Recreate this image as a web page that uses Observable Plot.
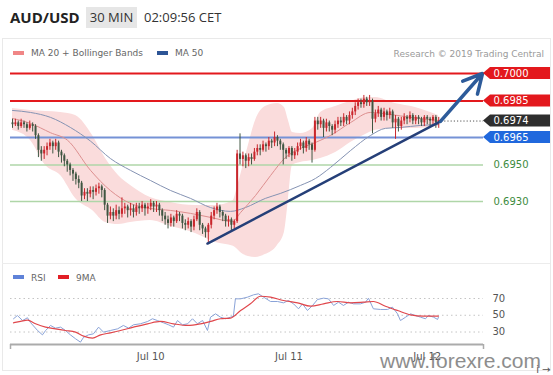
<!DOCTYPE html>
<html><head><meta charset="utf-8">
<script src="https://cdn.jsdelivr.net/npm/d3@7"></script>
<script src="https://cdn.jsdelivr.net/npm/@observablehq/plot@0.6"></script>
<style>
body{margin:0;background:#fff;}
#wrap{position:relative;width:553px;height:375px;overflow:hidden;background:#fff;font-family:"DejaVu Sans",sans-serif;}
.abs{position:absolute;white-space:nowrap;}
.leg{font-size:9px;line-height:12px;color:#666;}
.sw{position:absolute;height:4px;width:11px;}
</style></head><body>
<div id="wrap">
  <div class="abs" style="left:2px;top:38px;width:547px;height:331px;border:1px solid #e9e9e9;"></div>
  <div class="abs" style="left:2px;top:263px;width:548px;height:1px;background:#ececec;"></div>
  <div class="abs" style="left:10px;top:5px;font:bold 15px 'Open Sans';line-height:24px;color:#222;">AUD/USD</div>
  <div class="abs" style="left:86px;top:7px;width:51px;height:21px;background:#e6e6e6;text-align:center;font:13px 'Open Sans';line-height:21px;color:#333;">30 MIN</div>
  <div class="abs" style="left:144px;top:7px;font:13px 'Open Sans';line-height:21px;color:#333;">02:09:56 CET</div>
  <div class="sw" style="left:13px;top:51px;background:#f08686;"></div>
  <div class="abs leg" style="left:31px;top:47px;">MA 20 + Bollinger Bands</div>
  <div class="sw" style="left:157px;top:51px;background:#2d5596;"></div>
  <div class="abs leg" style="left:175px;top:47px;">MA 50</div>
  <div class="abs leg" style="right:9px;top:48px;color:#9a9a9a;">Research © 2019 Trading Central</div>
  <div id="main" class="abs" style="left:0;top:60px;"></div>
  <div class="sw" style="left:13px;top:275px;background:#5f82d8;"></div>
  <div class="abs leg" style="left:31px;top:272px;">RSI</div>
  <div class="sw" style="left:58px;top:275px;background:#e21f26;"></div>
  <div class="abs leg" style="left:76px;top:272px;">9MA</div>
  <div id="rsi" class="abs" style="left:0;top:285px;"></div>
  <div class="abs" style="left:380px;top:349px;font:21px 'Liberation Sans';line-height:24px;color:#7a7a7a;opacity:0.85;">www.forexre.com</div>
</div>
<script>
// ---------- data (prices in pips above BASE) ----------
const BASE = 0.69;
const openPips = [73,72,73,71,73,72,70,72,71,66, 58,56,58,60,62,60,62,57,55,52, 50,47,45,42,40,33,35,34,36,35, 37,38,36,28,22,24,22,25,23,26, 27,25,26,24,27,26,28,26,27,29, 27,28,25,22,20,18,21,19,23,22, 18,17,19,16,20,24,17,15,13,17, 22,25,27,24,22,19,20,17,19,56, 53,55,52,54,53,57,59,58,61,60, 63,62,65,63,61,58,56,59,55,57, 60,62,59,63,61,58,74,72,74,70, 73,71,69,72,74,73,76,74,77,79, 82,84,83,86,84,85,75,78,80,76, 79,77,79,73,75,71,74,76,75,77, 74,76,75,73,76,75,74,76,73];
const highPips = [75,75,74,75,74,73,74,73,72,67, 60,60,62,64,63,64,63,58,56,53, 51,48,46,44,41,37,37,38,38,39, 40,39,37,29,27,26,28,27,32,29, 28,29,28,29,29,30,29,29,31,30, 30,29,26,24,22,23,22,25,24,23, 20,21,20,22,26,25,18,16,18,24, 27,29,28,25,23,22,21,20,58,67, 57,56,56,56,59,61,61,63,62,65, 64,68,66,64,62,59,60,60,59,62, 64,63,65,64,62,76,76,76,75,75, 74,72,74,76,76,78,77,79,81,84, 86,86,88,87,88,86,80,82,81,81, 80,81,80,77,76,76,78,77,79,78, 77,77,76,77,77,76,77,77,76];
const lowPips = [70,71,69,70,70,68,69,68,64,54, 52,53,55,58,56,58,54,51,49,46, 44,41,39,37,30,31,30,32,31,33, 34,32,25,18,20,19,20,20,21,23, 21,22,21,22,23,24,22,23,25,24, 24,22,19,17,15,16,16,18,19,15, 14,15,13,14,19,14,12,10,7,15, 20,23,21,19,16,16,14,15,18,50, 49,48,49,50,52,55,55,57,57,58, 59,60,60,58,50,53,54,52,53,55, 58,56,57,58,51,57,69,70,65,68, 68,66,67,70,71,71,72,72,75,77, 80,81,81,82,82,67,73,76,74,74, 74,75,70,64,68,69,72,72,73,72, 72,72,71,71,72,71,72,70,70];
const closePips = [72,73,71,73,72,70,72,71,66,58, 56,58,60,62,60,62,57,55,52,50, 47,45,42,40,33,35,34,36,35,37, 38,36,28,22,24,22,25,23,26,27, 25,26,24,27,26,28,26,27,29,27, 28,25,22,20,18,21,19,23,22,18, 17,19,16,20,24,17,15,13,17,22, 25,27,24,22,19,20,17,19,56,53, 55,52,54,53,57,59,58,61,60,63, 62,65,63,61,58,56,59,55,57,60, 62,59,63,61,58,74,72,74,70,73, 71,69,72,74,73,76,74,77,79,82, 84,83,86,84,85,75,78,80,76,79, 77,79,73,75,71,74,76,75,77,74, 76,75,73,76,75,74,76,73,74];

// moving averages (candle index, pips)
const ma20Idx  = [0,6.25,13.2,19.1,27.1,34,41,47.9,54.9,61.8,68.75,76.4,79.2,84.4,89.6,94.8,100,105.2,110.4,117.4,124.3,131.25,138.2,148];
const ma20Pips = [75.4,72.7,67.6,63.5,47,36,28.9,26.2,25.1,23.5,21.3,19.1,24,33.3,44.2,54.1,59,62.3,66.1,73.2,78.7,77.6,76,74.3];
const ma50Idx  = [0,6.25,13.2,20.1,27.1,34,41,47.9,54.9,61.8,68.75,75.7,80.9,87.8,93,100,105.2,110.4,117.4,124.3,129.5,134.7,141.7,148];
const ma50Pips = [79.8,78.7,76,70.5,63,53.5,47,41.5,36,31.7,26.7,24.6,26.7,31.7,34.4,38.8,42.6,48.6,57.9,66.1,70,70.5,71.6,72.1];
// Bollinger bands
const bbIdx   = [0,6.25,11.5,16.7,21.9,27.8,32.3,36.8,41,47.9,54.9,63.5,70.5,76.7,77.8,79.2,81.9,84.4,87.8,92,94.4,95.8,97.2,100,104.2,107,112.2,117.4,122.6,126,132.9,139.9,147.9];
const bbUpper = [80.9,79.8,79.2,78.7,77,66.1,53.5,44.2,38.8,32.2,29.5,27.8,27.8,30.6,36.1,44.2,60.6,74.3,82,83.6,81.4,74.3,67.8,67.2,69.9,78.7,82,84.7,86.9,86.9,83.6,81.4,77];
const bbLower = [68.9,63.4,49.7,44.2,31.7,25.1,18.5,17.4,18.5,19.6,16.4,12.5,7.6,5.5,4.3,2.1,-0.05,-0.6,1,6,13.1,30.6,49.7,51.3,52.4,53.5,56.8,62.3,66.6,68.9,69.9,69.9,71.1];

// key levels
const levelValues = [0.7000, 0.6985, 0.6974, 0.6965, 0.6950, 0.6930];
const levelLabels = ["0.7000", "0.6985", "0.6974", "0.6965", "0.6950", "0.6930"];
const levelKinds  = ["resistance", "resistance", "last", "pivot", "support", "support"];

// trend line and target arrow (candle index, price)
const trendIdx = [67.7, 148.6];
const trendPrice = [0.69070, 0.69738];
const targetIdx = 163.2;
const targetPrice = 0.7000;

// RSI panel
const rsiIdx = [0.35,1.7,3.5,5.2,6.25,8.7,10.4,11.5,13.2,14.9,16.7,18.4,20.1,21.9,23.6,24.7,26.4,28.1,29.9,31.6,34,36.5,38.5,40.3,42,44.4,46.9,48.6,50.3,52.4,54.2,55.9,57.3,59,60.8,62.5,64.2,66,67.7,68.75,70.5,72.2,74,75.7,76.7,77.4,79.2,81.6,83.7,85.4,87.2,89.6,92,94.1,95.8,97.6,99.3,100.7,102.4,104.2,105.9,108,109.7,111.5,113.2,114.9,116.7,118.4,120.8,122.6,123.6,125.3,127.8,130.2,131.9,133.7,134.7,136.5,138.2,139.9,141.7,143.4,144.4,146.2,147.6,147.9];
const rsiVal = [45.8,49.7,43.7,47,41.3,31.8,26.6,31.8,37.8,34.6,35.8,31.8,26.6,21.9,17.9,23.8,26.6,27.8,35.8,29.8,31.8,33.8,37.8,34.6,38.6,39.8,42.5,45.8,43.7,41,38.6,35.8,43.7,38.6,39.8,45.8,39.8,43.7,31.8,47.7,51.7,47.7,45.8,47.7,49,69.6,69.6,71.6,74.4,75.6,71.6,66.4,66.4,64.8,67.6,63.6,57.7,63.6,55.7,61.7,68.8,70.4,69.6,61.7,65.6,61.7,65.6,63.6,63.6,65.6,70.4,57.7,56.9,56.9,59.7,51.7,43.7,47.7,51.7,49.7,47.7,45.8,49.7,47.7,45,47.7];
const ma9Idx = [0.35,2.8,5.2,8,11.5,14.9,18.4,21.9,24.7,27.8,30.6,34,37.5,42,46.9,51.4,55.9,60.8,65.3,68.75,72.2,75.7,79.2,82.6,86.1,89.6,94.1,99,103.5,108,112.8,117.4,121.9,125.3,129.5,133.7,138.2,142.7,147.9];
const ma9Val = [41,42.6,44.1,39.8,35.8,33.8,31.8,29.8,25,22.7,26.6,29,31.8,35.8,39.8,42.6,39.8,37.8,39.8,42.6,45.8,46.6,55.7,63.6,72.7,71.6,67.6,64.8,60.8,63.6,66.4,64.8,65.6,66.4,60.8,55.7,50.5,49,49];
const rsiLevels = [70, 50, 30];
const tickIdx = [48, 96, 144];
const tickLabels = ["Jul 10", "Jul 11", "Jul 12"];

// ---------- build ----------
const toPrice = p => BASE + p / 1e4;
const ix = px => (px - 12) / 2.88;          // page pixel -> candle index (layout only)
const PX_PER_PRICE = 18286;
const UP = "#c9262c", DOWN = "#3f5642";

const candles = closePips.map((c, i) => ({
  i, o: toPrice(openPips[i]), h: toPrice(highPips[i]), l: toPrice(lowPips[i]), c: toPrice(c),
  col: c >= openPips[i] ? UP : DOWN
}));
const ma20 = ma20Idx.map((i, k) => ({i, v: toPrice(ma20Pips[k])}));
const ma50 = ma50Idx.map((i, k) => ({i, v: toPrice(ma50Pips[k])}));
const bb = bbIdx.map((i, k) => ({i, hi: toPrice(bbUpper[k]), lo: toPrice(bbLower[k])}));
const trend = trendIdx.map((i, k) => ({i, v: trendPrice[k]}));

const kindColor = {resistance: "#e3181d", last: "#2e2e2e", pivot: "#2068dd", support: "#3d8b3d"};
const levels = levelValues.map((v, k) => ({v, label: levelLabels[k], kind: levelKinds[k], color: kindColor[levelKinds[k]]}));
const lineColor = {resistance: "#e3191d", pivot: "#7592d6", support: "#afd6a8"};
const lineWidth = {resistance: 2, pivot: 2, support: 1.5};
const fullLines = levels.filter(d => d.kind !== "last");
const tagged = levels.filter(d => d.kind !== "support");
const half = 6 / PX_PER_PRICE;
const tagPoly = [];
tagged.forEach(d => {
  tagPoly.push({k: d.label, x: ix(483), y1: d.v, y2: d.v, f: d.color});
  tagPoly.push({k: d.label, x: ix(490), y1: d.v - half, y2: d.v + half, f: d.color});
  tagPoly.push({k: d.label, x: ix(550), y1: d.v - half, y2: d.v + half, f: d.color});
});
const lastLevel = levels.find(d => d.kind === "last");

const main = Plot.plot({
  width: 553, height: 205, margin: 0,
  x: {domain: [ix(0), ix(553)], axis: null},
  y: {domain: [0.7000 - 192 / PX_PER_PRICE, 0.7000 + 13 / PX_PER_PRICE], axis: null},
  color: {type: "identity"},
  style: {fontFamily: "DejaVu Sans", fontSize: "10px", background: "transparent", overflow: "visible"},
  marks: [
    Plot.areaY(bb, {x: "i", y1: "lo", y2: "hi", fill: "#fadcdc", curve: "monotone-x"}),
    Plot.ruleY(fullLines, {y: "v", x1: ix(10), x2: ix(483), stroke: d => lineColor[d.kind], strokeWidth: d => lineWidth[d.kind]}),
    Plot.ruleY([lastLevel], {y: "v", x1: ix(441), x2: ix(483), stroke: "#555", strokeDasharray: "1.2,2"}),
    Plot.line(ma50, {x: "i", y: "v", stroke: "#8593b3", strokeWidth: 1, curve: "monotone-x"}),
    Plot.line(ma20, {x: "i", y: "v", stroke: "#dd8f8f", strokeWidth: 1, curve: "monotone-x"}),
    Plot.ruleX(candles, {x: "i", y1: "l", y2: "h", stroke: "col", strokeWidth: 1}),
    Plot.ruleX(candles, {x: "i", y1: "o", y2: "c", stroke: "col", strokeWidth: 2}),
    Plot.line(trend, {x: "i", y: "v", stroke: "#253f78", strokeWidth: 2.5}),
    Plot.arrow([0], {x1: trendIdx[1], y1: trendPrice[1], x2: targetIdx, y2: targetPrice, stroke: "#2d5b9a", strokeWidth: 3.5, headLength: 11, headAngle: 55}),
    Plot.areaY(tagPoly, {x: "x", y1: "y1", y2: "y2", z: "k", fill: "f"}),
    Plot.text(tagged, {x: ix(493), y: "v", text: "label", fill: "white", textAnchor: "start", fontSize: 10}),
    Plot.text(levels.filter(d => d.kind === "support"), {x: ix(493), y: "v", text: "label", fill: "#3d8b3d", textAnchor: "start", fontSize: 10})
  ]
});
document.getElementById("main").appendChild(main);

const rsiPx = 0.8375;
const yBot = 30 - 12.5 / rsiPx;
const rsi = rsiIdx.map((i, k) => ({i, v: rsiVal[k]}));
const ma9 = ma9Idx.map((i, k) => ({i, v: ma9Val[k]}));
const rsiPlot = Plot.plot({
  width: 553, height: 90, marginTop: 0, marginBottom: 31, marginLeft: 0, marginRight: 0,
  x: {domain: [ix(0), ix(553)]},
  y: {domain: [yBot, 70 + 13 / rsiPx], axis: null},
  style: {fontFamily: "DejaVu Sans", fontSize: "10px", background: "transparent", overflow: "visible"},
  marks: [
    Plot.ruleY(rsiLevels, {x1: ix(10), x2: ix(483), stroke: "#c4c4c4", strokeDasharray: "1.5,3"}),
    Plot.text(rsiLevels, {x: ix(492), y: d => d, text: d => String(d), textAnchor: "start", fill: "#555", fontSize: 10}),
    Plot.line(rsi, {x: "i", y: "v", stroke: "#8aa3d8", strokeWidth: 1}),
    Plot.line(ma9, {x: "i", y: "v", stroke: "#e0474c", strokeWidth: 1.2, curve: "monotone-x"}),
    Plot.ruleY([yBot], {x1: ix(10), x2: ix(483), stroke: "#ababab", strokeWidth: 2}),
    Plot.ruleX([ix(10), ix(483)], {y1: yBot, y2: yBot - 5 / rsiPx, stroke: "#ababab", strokeWidth: 1.5}),
    Plot.axisX({ticks: tickIdx, tickFormat: d => tickLabels[tickIdx.indexOf(d)], tickSize: 0, tickPadding: 8, fill: "#555", fontSize: 10})
  ]
});
document.getElementById("rsi").appendChild(rsiPlot);
</script>
</body></html>
